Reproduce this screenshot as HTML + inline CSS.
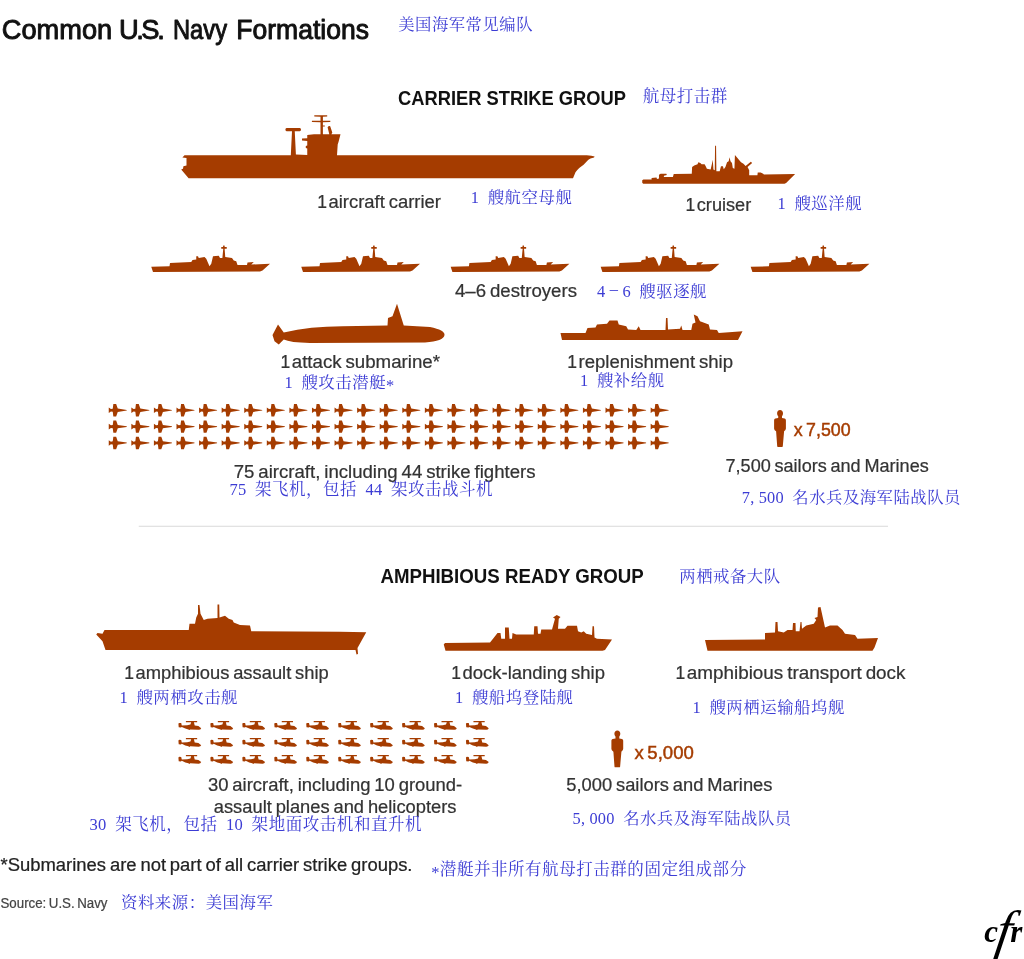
<!DOCTYPE html>
<html lang="en"><head><meta charset="utf-8"><title>Common U.S. Navy Formations</title>
<style>
html,body{margin:0;padding:0;background:#fff;}
body{width:1024px;height:959px;overflow:hidden;}
svg{display:block;}
text{font-family:"Liberation Sans",sans-serif;white-space:pre;}
text.zh{font-family:"Liberation Serif","Noto Serif CJK SC",serif;font-weight:400;}
text.logo{font-family:"Liberation Serif",serif;font-style:italic;font-weight:bold;}
</style></head><body>
<svg width="1024" height="959" viewBox="0 0 1024 959">
<rect width="1024" height="959" fill="#ffffff"/>
<text x="1.80" y="38.50" font-size="27.3" font-weight="normal" fill="#111111" textLength="110.40" lengthAdjust="spacingAndGlyphs" stroke="#111111" stroke-width="0.95" stroke-linejoin="round">Common</text>
<text x="119 136.3 141.2 157.3" y="38.5" font-size="27.3" fill="#111111" stroke="#111111" stroke-width="0.95" stroke-linejoin="round">U.S.</text>
<text x="173.00" y="38.50" font-size="27.3" font-weight="normal" fill="#111111" textLength="54.00" lengthAdjust="spacingAndGlyphs" stroke="#111111" stroke-width="0.95" stroke-linejoin="round">Navy</text>
<text x="236.30" y="38.50" font-size="27.3" font-weight="normal" fill="#111111" textLength="132.60" lengthAdjust="spacingAndGlyphs" stroke="#111111" stroke-width="0.95" stroke-linejoin="round">Formations</text>
<text class="zh" x="398.20 415.05 431.90 448.75 465.60 482.45 499.30 516.15" y="30.49" font-size="16.34" fill="#3c3cd4">美国海军常见编队</text>
<text x="398.00" y="105.40" font-size="19.5" font-weight="bold" fill="#111111" textLength="228.00" lengthAdjust="spacingAndGlyphs" >CARRIER STRIKE GROUP</text>
<text class="zh" x="642.70 659.70 676.70 693.70 710.70" y="102.32" font-size="16.49" fill="#3c3cd4">航母打击群</text>
<path fill="#a53c00" d="M182.4,157.4 L184.5,155.2 L290.8,155.2 L292,131.3 L286.6,131.3 Q285.4,131.3 285.4,129.6 Q285.4,127.9 286.6,127.9 L299.8,127.9 Q301,127.9 301,129.6 Q301,131.3 299.8,131.3 L294.75,131.3 L295.9,154.6 L307.25,155 L307.25,148.5 L305.8,148 L305.8,146 L307.25,145.5 L307.25,141 L302,140.6 L302,138.4 L307.25,138.2 L307.25,135 L314,134.3 L320.5,134.3 L320.5,122.2 L311.9,122 L311.9,120.8 L320.5,120.8 L320.5,116.7 L314.3,116.5 L314.3,115.3 L327.2,115.3 L327.2,116.5 L322.9,116.7 L322.9,120.8 L330.3,120.8 L330.3,122 L322.9,122.2 L322.9,125.5 L324.8,125.5 L324.8,126.5 L322.9,126.5 L322.9,134.3 L329.3,134.3 L327.6,127.3 Q328.5,125.8 330.2,126.2 L332.3,132.5 L331.4,134.3 L340.5,134.3 L338.5,142 L337.7,144.5 L337,155.2 L586.75,155.2 Q592,155.4 594.6,156.6 Q594.3,158 590.5,158.5 Q588.5,159.5 587.4,160.7 L583.6,164.75 L579.25,167.9 Q576.5,170.5 575.5,172.25 L573,178.2 L188.6,178.2 L181.2,169.4 L183,168.8 L183.4,166.3 L186.5,165.4 L186.5,157.9 Z"/>
<text x="317.30" y="207.50" font-size="17.5" font-weight="normal" fill="#333333"  stroke="#333333" stroke-width="0.22" word-spacing="-1.2">1</text>
<text x="328.50" y="207.50" font-size="17.5" font-weight="normal" fill="#333333" textLength="112.50" lengthAdjust="spacingAndGlyphs"  stroke="#333333" stroke-width="0.22" word-spacing="-1.2">aircraft carrier</text>
<text class="zh" x="470.75 479.21 487.68 504.61 521.54 538.47 555.40" y="203.46" font-size="16.42" fill="#3c3cd4">1 艘航空母舰</text>
<path d="M 643.22 183.64 L 642.23 182.66 L 642.23 180.36 L 643.38 179.38 L 651.59 179.38 L 651.59 177.90 L 656.51 177.57 L 657.00 178.88 L 658.97 178.39 L 658.97 174.78 L 660.61 173.63 L 666.35 173.63 L 666.84 175.11 L 663.89 175.77 L 663.89 176.91 L 672.91 176.91 L 673.73 174.12 L 691.78 173.63 L 692.11 167.07 L 694.24 165.43 L 697.52 164.28 L 698.34 162.15 L 700.31 162.97 L 701.62 164.28 L 704.58 164.28 L 705.73 166.25 L 706.88 168.71 L 710.65 169.53 L 711.80 164.61 L 712.78 159.69 L 713.44 169.53 L 714.75 170.35 L 715.08 145.74 L 716.06 145.74 L 716.39 171.17 L 719.67 171.17 L 720.98 166.25 L 722.95 166.25 L 723.77 169.20 L 725.41 167.07 L 727.05 162.15 L 728.70 161.33 L 729.52 157.23 L 730.50 161.33 L 731.98 162.97 L 732.80 167.89 L 734.44 168.71 L 734.93 155.09 L 741.00 162.15 L 743.46 163.79 L 745.59 165.92 L 750.84 161.66 L 752.16 162.97 L 747.56 167.07 L 749.20 170.35 L 749.20 175.27 L 757.41 175.27 L 757.73 172.48 L 760.69 172.48 L 763.15 173.63 L 763.97 174.45 L 795.14 173.96 L 786.12 182.98 L 784.48 183.64 Z" fill="#a53c00" />
<text x="685.55" y="210.50" font-size="17.5" font-weight="normal" fill="#333333"  stroke="#333333" stroke-width="0.22" word-spacing="-1.2">1</text>
<text x="696.75" y="210.50" font-size="17.5" font-weight="normal" fill="#333333" textLength="54.50" lengthAdjust="spacingAndGlyphs"  stroke="#333333" stroke-width="0.22" word-spacing="-1.2">cruiser</text>
<text class="zh" x="777.50 785.97 794.43 811.36 828.29 845.22" y="209.46" font-size="16.42" fill="#3c3cd4">1 艘巡洋舰</text>
<path d="M 153.00 272.00 L 151.25 266.75 L 169.50 266.25 L 170.00 263.00 L 191.25 262.00 L 192.50 260.00 L 196.25 259.50 L 196.25 256.25 L 198.00 256.25 L 198.75 258.00 L 204.50 257.00 L 206.25 258.75 L 209.50 266.25 L 211.25 263.75 L 213.00 256.25 L 218.75 255.75 L 220.00 258.00 L 222.38 258.00 L 223.25 248.75 L 221.25 248.75 L 221.25 247.00 L 223.00 247.00 L 223.25 245.50 L 224.50 245.50 L 224.75 247.00 L 226.75 247.00 L 226.75 248.75 L 224.62 248.75 L 225.25 257.00 L 232.00 258.00 L 233.75 260.50 L 236.25 261.25 L 237.50 265.00 L 247.00 265.00 L 247.50 262.50 L 253.75 262.00 L 251.25 264.50 L 270.00 263.75 L 262.50 270.50 L 260.00 271.50 Z" fill="#a53c00" />
<path d="M 303.00 272.00 L 301.25 266.75 L 319.50 266.25 L 320.00 263.00 L 341.25 262.00 L 342.50 260.00 L 346.25 259.50 L 346.25 256.25 L 348.00 256.25 L 348.75 258.00 L 354.50 257.00 L 356.25 258.75 L 359.50 266.25 L 361.25 263.75 L 363.00 256.25 L 368.75 255.75 L 370.00 258.00 L 372.38 258.00 L 373.25 248.75 L 371.25 248.75 L 371.25 247.00 L 373.00 247.00 L 373.25 245.50 L 374.50 245.50 L 374.75 247.00 L 376.75 247.00 L 376.75 248.75 L 374.62 248.75 L 375.25 257.00 L 382.00 258.00 L 383.75 260.50 L 386.25 261.25 L 387.50 265.00 L 397.00 265.00 L 397.50 262.50 L 403.75 262.00 L 401.25 264.50 L 420.00 263.75 L 412.50 270.50 L 410.00 271.50 Z" fill="#a53c00" />
<path d="M 452.40 272.00 L 450.65 266.75 L 468.90 266.25 L 469.40 263.00 L 490.65 262.00 L 491.90 260.00 L 495.65 259.50 L 495.65 256.25 L 497.40 256.25 L 498.15 258.00 L 503.90 257.00 L 505.65 258.75 L 508.90 266.25 L 510.65 263.75 L 512.40 256.25 L 518.15 255.75 L 519.40 258.00 L 521.77 258.00 L 522.65 248.75 L 520.65 248.75 L 520.65 247.00 L 522.40 247.00 L 522.65 245.50 L 523.90 245.50 L 524.15 247.00 L 526.15 247.00 L 526.15 248.75 L 524.02 248.75 L 524.65 257.00 L 531.40 258.00 L 533.15 260.50 L 535.65 261.25 L 536.90 265.00 L 546.40 265.00 L 546.90 262.50 L 553.15 262.00 L 550.65 264.50 L 569.40 263.75 L 561.90 270.50 L 559.40 271.50 Z" fill="#a53c00" />
<path d="M 602.40 272.00 L 600.65 266.75 L 618.90 266.25 L 619.40 263.00 L 640.65 262.00 L 641.90 260.00 L 645.65 259.50 L 645.65 256.25 L 647.40 256.25 L 648.15 258.00 L 653.90 257.00 L 655.65 258.75 L 658.90 266.25 L 660.65 263.75 L 662.40 256.25 L 668.15 255.75 L 669.40 258.00 L 671.77 258.00 L 672.65 248.75 L 670.65 248.75 L 670.65 247.00 L 672.40 247.00 L 672.65 245.50 L 673.90 245.50 L 674.15 247.00 L 676.15 247.00 L 676.15 248.75 L 674.02 248.75 L 674.65 257.00 L 681.40 258.00 L 683.15 260.50 L 685.65 261.25 L 686.90 265.00 L 696.40 265.00 L 696.90 262.50 L 703.15 262.00 L 700.65 264.50 L 719.40 263.75 L 711.90 270.50 L 709.40 271.50 Z" fill="#a53c00" />
<path d="M 752.40 272.00 L 750.65 266.75 L 768.90 266.25 L 769.40 263.00 L 790.65 262.00 L 791.90 260.00 L 795.65 259.50 L 795.65 256.25 L 797.40 256.25 L 798.15 258.00 L 803.90 257.00 L 805.65 258.75 L 808.90 266.25 L 810.65 263.75 L 812.40 256.25 L 818.15 255.75 L 819.40 258.00 L 821.77 258.00 L 822.65 248.75 L 820.65 248.75 L 820.65 247.00 L 822.40 247.00 L 822.65 245.50 L 823.90 245.50 L 824.15 247.00 L 826.15 247.00 L 826.15 248.75 L 824.02 248.75 L 824.65 257.00 L 831.40 258.00 L 833.15 260.50 L 835.65 261.25 L 836.90 265.00 L 846.40 265.00 L 846.90 262.50 L 853.15 262.00 L 850.65 264.50 L 869.40 263.75 L 861.90 270.50 L 859.40 271.50 Z" fill="#a53c00" />
<text x="455.00" y="297.00" font-size="17.5" font-weight="normal" fill="#333333" textLength="122.00" lengthAdjust="spacingAndGlyphs"  stroke="#333333" stroke-width="0.22" word-spacing="-1.2">4–6 destroyers</text>
<text class="zh" x="597.00 609.70 622.39 630.86 639.33 656.25 673.18 690.11" y="297.46" dy="0.00 -3.20 3.20 0.00 0.00 0.00 0.00 0.00" font-size="16.42" fill="#3c3cd4">4–6 艘驱逐舰</text>
<path d="M 272.50 335.00 L 278.00 324.50 L 283.75 332.50 Q 310.00 326.25 342.50 326.25 L 387.50 325.50 L 388.00 318.00 L 392.50 316.25 L 397.00 303.75 L 403.75 325.50 L 430.00 327.00 Q 445.00 330.00 444.50 335.00 Q 443.75 341.25 425.00 342.50 L 310.00 343.00 Q 290.00 342.50 283.75 339.50 L 278.75 344.50 L 274.50 341.25 Z" fill="#a53c00" />
<text x="280.55" y="368.00" font-size="17.5" font-weight="normal" fill="#333333"  stroke="#333333" stroke-width="0.22" word-spacing="-1.2">1</text>
<text x="291.75" y="368.00" font-size="17.5" font-weight="normal" fill="#333333" textLength="148.25" lengthAdjust="spacingAndGlyphs"  stroke="#333333" stroke-width="0.22" word-spacing="-1.2">attack submarine*</text>
<text class="zh" x="284.50 292.96 301.43 318.36 335.29 352.22 369.15 386.08" y="388.46" dy="0.00 0.00 0.00 0.00 0.00 0.00 0.00 2.50" font-size="16.42" fill="#3c3cd4">1 艘攻击潜艇*</text>
<path d="M 562.00 340.00 L 560.50 333.00 L 585.50 333.00 L 587.50 328.00 L 595.50 327.50 L 597.00 324.50 L 607.00 323.75 L 609.50 320.50 L 617.50 320.50 L 618.75 324.50 L 626.25 326.25 L 628.00 329.50 L 636.25 330.00 L 638.75 326.25 L 640.50 330.00 L 665.50 330.00 L 666.00 318.00 L 667.50 318.00 L 668.00 329.50 L 680.00 328.75 L 681.25 325.50 L 682.50 330.00 L 691.25 330.00 L 692.50 323.75 L 695.50 322.50 L 693.75 314.50 L 697.50 316.25 L 700.00 321.25 L 708.75 324.50 L 710.00 329.50 L 717.00 330.00 L 718.75 333.00 L 742.50 331.25 L 738.00 340.00 Z" fill="#a53c00" />
<text x="567.30" y="368.00" font-size="17.5" font-weight="normal" fill="#333333"  stroke="#333333" stroke-width="0.22" word-spacing="-1.2">1</text>
<text x="578.50" y="368.00" font-size="17.5" font-weight="normal" fill="#333333" textLength="154.50" lengthAdjust="spacingAndGlyphs"  stroke="#333333" stroke-width="0.22" word-spacing="-1.2">replenishment ship</text>
<text class="zh" x="580.00 588.47 596.93 613.86 630.79 647.72" y="385.96" font-size="16.42" fill="#3c3cd4">1 艘补给舰</text>
<defs><path id="pl" d="M0,-2.8 L2.2,-1.3 L4,-1.6 L4.6,-6.2 L7.4,-6.2 L9,-1.7 L18,-0.35 L18,0.35 L9,1.7 L7.4,6.2 L4.6,6.2 L4,1.6 L2.2,1.3 L0,2.8 Z" fill="#a53c00"/>
<path id="he" d="M0,2.5 L0.9,1.9 L2.8,2 L3.4,4.5 L8.75,4.3 L12,3.6 L12.8,1.3 L7.5,1.3 L7.5,0.1 L18.75,0.1 L18.75,1.3 L15.5,1.3 L16.3,4.5 L20,5 L22.8,7.2 L21.9,8.4 L20.3,8.75 L11.9,8.4 L10.9,9 L10,8.4 L6.9,7.5 L3.4,5.9 L2.5,6.6 L0.3,6.25 Z" fill="#a53c00"/>
<path id="man" d="M6.05,0 C7.9,0 9,1.5 9,3.2 C9,4.6 8.5,5.6 8,6 L8,8 L10.6,8.6 C11.5,8.9 11.9,9.5 11.9,10.4 L11.9,18.4 C11.9,19.6 10.8,20.6 10.1,21.3 L8.8,36.3 Q8.7,36.9 8.1,36.9 L3.9,36.9 Q3.3,36.9 3.2,36.3 L2.1,21.3 C1.2,20.6 0.1,19.6 0.1,18.4 L0.1,10.4 C0.1,9.5 0.5,8.9 1.4,8.6 L4.2,8 L4.2,6 C3.6,5.6 3.1,4.6 3.1,3.2 C3.1,1.5 4.2,0 6.05,0 Z" fill="#a53c00"/></defs>
<use href="#pl" x="108.75" y="410.25"/>
<use href="#pl" x="131.33" y="410.25"/>
<use href="#pl" x="153.91" y="410.25"/>
<use href="#pl" x="176.49" y="410.25"/>
<use href="#pl" x="199.07" y="410.25"/>
<use href="#pl" x="221.65" y="410.25"/>
<use href="#pl" x="244.23" y="410.25"/>
<use href="#pl" x="266.81" y="410.25"/>
<use href="#pl" x="289.39" y="410.25"/>
<use href="#pl" x="311.97" y="410.25"/>
<use href="#pl" x="334.55" y="410.25"/>
<use href="#pl" x="357.13" y="410.25"/>
<use href="#pl" x="379.71" y="410.25"/>
<use href="#pl" x="402.29" y="410.25"/>
<use href="#pl" x="424.87" y="410.25"/>
<use href="#pl" x="447.45" y="410.25"/>
<use href="#pl" x="470.03" y="410.25"/>
<use href="#pl" x="492.61" y="410.25"/>
<use href="#pl" x="515.19" y="410.25"/>
<use href="#pl" x="537.77" y="410.25"/>
<use href="#pl" x="560.35" y="410.25"/>
<use href="#pl" x="582.93" y="410.25"/>
<use href="#pl" x="605.51" y="410.25"/>
<use href="#pl" x="628.09" y="410.25"/>
<use href="#pl" x="650.67" y="410.25"/>
<use href="#pl" x="108.75" y="426.60"/>
<use href="#pl" x="131.33" y="426.60"/>
<use href="#pl" x="153.91" y="426.60"/>
<use href="#pl" x="176.49" y="426.60"/>
<use href="#pl" x="199.07" y="426.60"/>
<use href="#pl" x="221.65" y="426.60"/>
<use href="#pl" x="244.23" y="426.60"/>
<use href="#pl" x="266.81" y="426.60"/>
<use href="#pl" x="289.39" y="426.60"/>
<use href="#pl" x="311.97" y="426.60"/>
<use href="#pl" x="334.55" y="426.60"/>
<use href="#pl" x="357.13" y="426.60"/>
<use href="#pl" x="379.71" y="426.60"/>
<use href="#pl" x="402.29" y="426.60"/>
<use href="#pl" x="424.87" y="426.60"/>
<use href="#pl" x="447.45" y="426.60"/>
<use href="#pl" x="470.03" y="426.60"/>
<use href="#pl" x="492.61" y="426.60"/>
<use href="#pl" x="515.19" y="426.60"/>
<use href="#pl" x="537.77" y="426.60"/>
<use href="#pl" x="560.35" y="426.60"/>
<use href="#pl" x="582.93" y="426.60"/>
<use href="#pl" x="605.51" y="426.60"/>
<use href="#pl" x="628.09" y="426.60"/>
<use href="#pl" x="650.67" y="426.60"/>
<use href="#pl" x="108.75" y="442.95"/>
<use href="#pl" x="131.33" y="442.95"/>
<use href="#pl" x="153.91" y="442.95"/>
<use href="#pl" x="176.49" y="442.95"/>
<use href="#pl" x="199.07" y="442.95"/>
<use href="#pl" x="221.65" y="442.95"/>
<use href="#pl" x="244.23" y="442.95"/>
<use href="#pl" x="266.81" y="442.95"/>
<use href="#pl" x="289.39" y="442.95"/>
<use href="#pl" x="311.97" y="442.95"/>
<use href="#pl" x="334.55" y="442.95"/>
<use href="#pl" x="357.13" y="442.95"/>
<use href="#pl" x="379.71" y="442.95"/>
<use href="#pl" x="402.29" y="442.95"/>
<use href="#pl" x="424.87" y="442.95"/>
<use href="#pl" x="447.45" y="442.95"/>
<use href="#pl" x="470.03" y="442.95"/>
<use href="#pl" x="492.61" y="442.95"/>
<use href="#pl" x="515.19" y="442.95"/>
<use href="#pl" x="537.77" y="442.95"/>
<use href="#pl" x="560.35" y="442.95"/>
<use href="#pl" x="582.93" y="442.95"/>
<use href="#pl" x="605.51" y="442.95"/>
<use href="#pl" x="628.09" y="442.95"/>
<use href="#pl" x="650.67" y="442.95"/>
<text x="233.75" y="477.50" font-size="17.5" font-weight="normal" fill="#333333" textLength="301.75" lengthAdjust="spacingAndGlyphs"  stroke="#333333" stroke-width="0.22" word-spacing="-1.2">75 aircraft, including 44 strike fighters</text>
<text class="zh" x="229.50 238.00 246.50 255.00 272.00 289.00 306.00 323.00 340.00 357.00 365.50 374.00 382.50 391.00 408.00 425.00 442.00 459.00 476.00" y="495.27" font-size="16.49" fill="#3c3cd4">75 架飞机，包括 44 架攻击战斗机</text>
<use href="#man" x="774" y="410"/>
<text x="793.75" y="436.25" font-size="18" font-weight="normal" fill="#a53c00" textLength="56.75" lengthAdjust="spacingAndGlyphs" stroke="#a53c00" stroke-width="0.45" word-spacing="-1.5">x 7,500</text>
<text x="725.50" y="471.75" font-size="17.5" font-weight="normal" fill="#333333" textLength="203.25" lengthAdjust="spacingAndGlyphs"  stroke="#333333" stroke-width="0.22" word-spacing="-1.2">7,500 sailors and Marines</text>
<text class="zh" x="741.80 750.22 758.65 767.07 775.50 783.92 792.35 809.20 826.05 842.90 859.75 876.60 893.45 910.30 927.15 944.00" y="503.39" font-size="16.34" fill="#3c3cd4">7,500 名水兵及海军陆战队员</text>
<rect x="138.75" y="525.75" width="749.25" height="1" fill="#d9d9d9"/>
<text x="380.40" y="583.40" font-size="19.5" font-weight="bold" fill="#111111" textLength="263.40" lengthAdjust="spacingAndGlyphs" >AMPHIBIOUS READY GROUP</text>
<text class="zh" x="679.30 696.18 713.06 729.94 746.82 763.70" y="581.62" font-size="16.37" fill="#3c3cd4">两栖戒备大队</text>
<path fill="#a53c00" d="M 105.50 650.00 L 102.50 641.25 L 96.25 634.50 L 97.50 633.00 L 102.50 633.75 L 104.50 630.00 L 188.75 630.00 L 189.50 623.75 L 195.00 623.75 L 196.25 617.50 L 198.00 613.75 L 198.00 605.00 L 199.50 605.00 L 200.50 613.75 L 203.75 620.00 L 207.50 618.75 L 217.50 618.00 L 217.50 604.50 L 219.25 604.50 L 219.50 617.50 L 225.00 615.75 L 228.75 618.75 L 232.50 620.00 L 233.75 622.50 L 240.00 625.00 L 250.00 625.50 L 251.25 631.25 L 340.00 631.75 L366.25,632.3 L357.5,648 L358,654 L356.5,654.5 L355.5,650 Z"/>
<text x="124.30" y="678.75" font-size="17.5" font-weight="normal" fill="#333333"  stroke="#333333" stroke-width="0.22" word-spacing="-1.2">1</text>
<text x="135.50" y="678.75" font-size="17.5" font-weight="normal" fill="#333333" textLength="193.25" lengthAdjust="spacingAndGlyphs"  stroke="#333333" stroke-width="0.22" word-spacing="-1.2">amphibious assault ship</text>
<text class="zh" x="119.50 127.97 136.43 153.36 170.29 187.22 204.15 221.08" y="703.46" font-size="16.42" fill="#3c3cd4">1 艘两栖攻击舰</text>
<path d="M 445.50 650.75 L 443.75 644.50 L 445.00 643.00 L 490.00 642.50 L 495.00 636.25 L 497.50 633.00 L 500.50 633.00 L 501.25 638.75 L 505.00 638.75 L 505.00 627.50 L 508.75 627.50 L 509.50 638.75 L 512.00 638.75 L 512.50 633.00 L 516.25 634.50 L 533.75 634.50 L 534.25 626.25 L 537.50 626.25 L 538.00 633.75 L 540.50 633.75 L 541.25 629.50 L 552.00 629.50 L 555.00 618.75 L 553.00 617.50 L 556.75 615.00 L 560.50 617.00 L 558.75 618.75 L 558.00 628.75 L 565.00 628.75 L 567.50 625.75 L 577.00 625.75 L 578.00 631.25 L 581.25 632.50 L 583.75 631.25 L 586.25 633.75 L 592.00 635.00 L 592.50 626.25 L 594.00 626.25 L 594.50 637.50 L 597.00 638.75 L 612.00 639.50 L 605.00 650.00 L 602.50 650.75 Z" fill="#a53c00" />
<text x="451.30" y="679.00" font-size="17.5" font-weight="normal" fill="#333333"  stroke="#333333" stroke-width="0.22" word-spacing="-1.2">1</text>
<text x="462.50" y="679.00" font-size="17.5" font-weight="normal" fill="#333333" textLength="142.50" lengthAdjust="spacingAndGlyphs"  stroke="#333333" stroke-width="0.22" word-spacing="-1.2">dock-landing ship</text>
<text class="zh" x="455.00 463.46 471.93 488.86 505.79 522.72 539.65 556.58" y="703.46" font-size="16.42" fill="#3c3cd4">1 艘船坞登陆舰</text>
<path d="M 707.50 650.75 L 705.00 640.00 L 765.00 639.50 L 765.00 633.00 L 775.00 632.50 L 775.50 622.00 L 777.50 622.00 L 778.00 631.25 L 783.75 632.50 L 787.50 630.00 L 792.50 630.00 L 793.00 623.00 L 795.50 623.00 L 795.75 631.25 L 799.50 631.25 L 800.50 622.00 L 801.50 622.00 L 802.00 628.75 L 806.25 625.50 L 813.75 623.75 L 816.25 620.00 L 814.50 618.00 L 817.50 617.00 L 818.00 607.50 L 820.50 607.00 L 825.00 627.50 L 830.00 625.50 L 837.50 625.50 L 842.50 630.00 L 845.00 633.75 L 855.00 635.00 L 857.50 638.75 L 878.00 638.00 L 874.50 647.50 L 872.50 650.75 Z" fill="#a53c00" />
<text x="675.55" y="678.75" font-size="17.5" font-weight="normal" fill="#333333"  stroke="#333333" stroke-width="0.22" word-spacing="-1.2">1</text>
<text x="686.75" y="678.75" font-size="17.5" font-weight="normal" fill="#333333" textLength="218.75" lengthAdjust="spacingAndGlyphs"  stroke="#333333" stroke-width="0.22" word-spacing="-1.2">amphibious transport dock</text>
<text class="zh" x="692.50 700.97 709.43 726.36 743.29 760.22 777.15 794.08 811.01 827.94" y="712.71" font-size="16.42" fill="#3c3cd4">1 艘两栖运输船坞舰</text>
<use href="#he" x="178.40" y="721.00"/>
<use href="#he" x="210.35" y="721.00"/>
<use href="#he" x="242.30" y="721.00"/>
<use href="#he" x="274.25" y="721.00"/>
<use href="#he" x="306.20" y="721.00"/>
<use href="#he" x="338.15" y="721.00"/>
<use href="#he" x="370.10" y="721.00"/>
<use href="#he" x="402.05" y="721.00"/>
<use href="#he" x="434.00" y="721.00"/>
<use href="#he" x="465.95" y="721.00"/>
<use href="#he" x="178.40" y="737.95"/>
<use href="#he" x="210.35" y="737.95"/>
<use href="#he" x="242.30" y="737.95"/>
<use href="#he" x="274.25" y="737.95"/>
<use href="#he" x="306.20" y="737.95"/>
<use href="#he" x="338.15" y="737.95"/>
<use href="#he" x="370.10" y="737.95"/>
<use href="#he" x="402.05" y="737.95"/>
<use href="#he" x="434.00" y="737.95"/>
<use href="#he" x="465.95" y="737.95"/>
<use href="#he" x="178.40" y="754.90"/>
<use href="#he" x="210.35" y="754.90"/>
<use href="#he" x="242.30" y="754.90"/>
<use href="#he" x="274.25" y="754.90"/>
<use href="#he" x="306.20" y="754.90"/>
<use href="#he" x="338.15" y="754.90"/>
<use href="#he" x="370.10" y="754.90"/>
<use href="#he" x="402.05" y="754.90"/>
<use href="#he" x="434.00" y="754.90"/>
<use href="#he" x="465.95" y="754.90"/>
<text x="208.00" y="791.25" font-size="17.5" font-weight="normal" fill="#333333" textLength="254.20" lengthAdjust="spacingAndGlyphs"  stroke="#333333" stroke-width="0.22" word-spacing="-1.2">30 aircraft, including 10 ground-</text>
<text x="213.75" y="813.25" font-size="17.5" font-weight="normal" fill="#333333" textLength="242.75" lengthAdjust="spacingAndGlyphs"  stroke="#333333" stroke-width="0.22" word-spacing="-1.2">assault planes and helicopters</text>
<text class="zh" x="89.60 98.12 106.65 115.18 132.23 149.28 166.33 183.38 200.43 217.48 226.00 234.53 243.05 251.58 268.63 285.68 302.73 319.78 336.83 353.88 370.93 387.98 405.03" y="830.31" font-size="16.54" fill="#3c3cd4">30 架飞机，包括 10 架地面攻击机和直升机</text>
<use href="#man" x="611.3" y="730.4"/>
<text x="634.50" y="758.75" font-size="18" font-weight="normal" fill="#a53c00" textLength="59.25" lengthAdjust="spacingAndGlyphs" stroke="#a53c00" stroke-width="0.45" word-spacing="-1.5">x 5,000</text>
<text x="566.25" y="791.25" font-size="17.5" font-weight="normal" fill="#333333" textLength="206.25" lengthAdjust="spacingAndGlyphs"  stroke="#333333" stroke-width="0.22" word-spacing="-1.2">5,000 sailors and Marines</text>
<text class="zh" x="572.60 581.02 589.45 597.87 606.30 614.72 623.15 640.00 656.85 673.70 690.55 707.40 724.25 741.10 757.95 774.80" y="824.39" font-size="16.34" fill="#3c3cd4">5,000 名水兵及海军陆战队员</text>
<text x="0.50" y="871.00" font-size="17.5" font-weight="normal" fill="#222222" textLength="412.00" lengthAdjust="spacingAndGlyphs"  stroke="#222222" stroke-width="0.22" word-spacing="-1.2">*Submarines are not part of all carrier strike groups.</text>
<text class="zh" x="431.30 439.82 456.88 473.93 490.98 508.03 525.08 542.12 559.17 576.22 593.27 610.32 627.37 644.42 661.47 678.52 695.57 712.62 729.67" y="875.06" dy="2.50 -2.50 0.00 0.00 0.00 0.00 0.00 0.00 0.00 0.00 0.00 0.00 0.00 0.00 0.00 0.00 0.00 0.00 0.00" font-size="16.54" fill="#3c3cd4">*潜艇并非所有航母打击群的固定组成部分</text>
<text x="0.50" y="907.50" font-size="14" font-weight="normal" fill="#444444" textLength="107.00" lengthAdjust="spacingAndGlyphs"  stroke="#444444" stroke-width="0.22" word-spacing="-1.2">Source: U.S. Navy</text>
<text class="zh" x="121.00 137.93 154.86 171.79 188.72 205.65 222.58 239.51 256.44" y="908.46" font-size="16.42" fill="#3c3cd4">资料来源：美国海军</text>
<text class="logo" y="941.7" font-size="31" fill="#000"><tspan x="984.2">c</tspan><tspan x="1010.2">r</tspan></text>
<text class="logo" transform="translate(994.3,947.5) skewX(-9)" font-size="54" style="font-weight:normal" fill="#000">f</text>
</svg>
</body></html>
